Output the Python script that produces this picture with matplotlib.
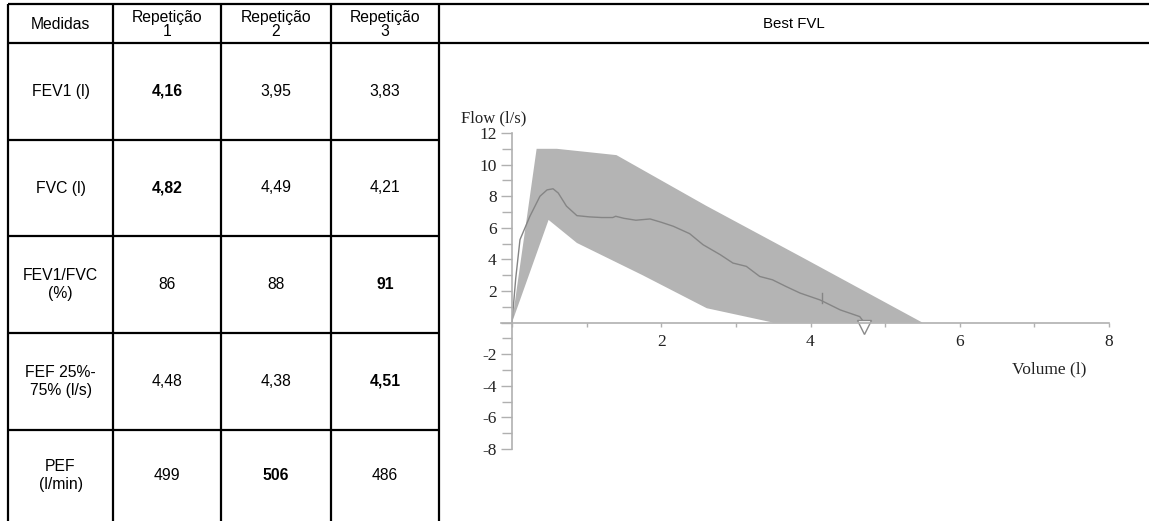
import matplotlib.pyplot as plt
from matplotlib.ticker import MultipleLocator

# table contents
medidas = ['FEV1 (l)', 'FVC (l)', 'FEV1/FVC\n(%)', 'FEF 25%-\n75% (l/s)', 'PEF\n(l/min)']
repeticoes = ['Repetição\n1', 'Repetição\n2', 'Repetição\n3']
valores = [['4,16', '3,95', '3,83'],
           ['4,82', '4,49', '4,21'],
           ['86', '88', '91'],
           ['4,48', '4,38', '4,51'],
           ['499', '506', '486']]
melhor = [0, 0, 2, 2, 1]   # which repetition is bold in each row

# predicted band (upper / lower edge)
sup_vol = [0, 0.33, 0.6, 1.4, 2.6, 3.9, 5.5]
sup_flow = [0, 11, 11, 10.6, 7.4, 4.1, 0]
inf_vol = [0, 0.49, 0.87, 1.75, 2.61, 3.5, 5.5]
inf_flow = [0, 6.5, 5.04, 3.0, 0.91, 0, 0]

# measured flow-volume curve
curve_vol = [0, 0.05, 0.107, 0.24, 0.375, 0.47, 0.55, 0.62, 0.73, 0.87, 1.04, 1.2,
             1.35, 1.39, 1.5, 1.66, 1.85, 2.0, 2.16, 2.38, 2.56, 2.79, 2.96, 3.14,
             3.32, 3.49, 3.67, 3.86, 4.13, 4.4, 4.66, 4.72]
curve_flow = [0, 2.8, 5.25, 6.73, 8.0, 8.4, 8.47, 8.2, 7.37, 6.77, 6.69, 6.65,
              6.65, 6.73, 6.6, 6.48, 6.56, 6.35, 6.1, 5.63, 4.93, 4.3, 3.77, 3.56,
              2.92, 2.71, 2.29, 1.87, 1.43, 0.8, 0.38, 0.0]
fev1_vol = 4.16
fev1_flow = [1.25, 1.9]
fvc_vol = 4.72

W, H = 1149, 521
fig = plt.figure(figsize=(W / 100, H / 100), dpi=100)

# ---- table drawn in pixel coordinates ----
tab = fig.add_axes([0, 0, 1, 1])
tab.set_xlim(0, W)
tab.set_ylim(H, 0)
tab.axis('off')

col_x = [8, 113, 221, 331, 439]
row_y = [4, 43, 140, 236, 333, 430, 521]
lw = 1.6
for y in row_y[:2]:
    tab.plot([col_x[0], W], [y, y], color='black', lw=lw, solid_capstyle='butt')
for y in row_y[2:-1]:
    tab.plot([col_x[0], col_x[-1]], [y, y], color='black', lw=lw, solid_capstyle='butt')
for x in col_x:
    tab.plot([x, x], [row_y[0], H], color='black', lw=lw, solid_capstyle='butt')

sans = ['Liberation Sans', 'DejaVu Sans']
fs = 11.3
hy = (row_y[0] + row_y[1]) / 2
tab.text((col_x[0] + col_x[1]) / 2, hy + 1, 'Medidas', ha='center', va='center',
         fontsize=fs, family=sans)
for j, r in enumerate(repeticoes):
    tab.text((col_x[j + 1] + col_x[j + 2]) / 2, hy + 1, r, ha='center', va='center',
             fontsize=fs, family=sans, linespacing=0.9)
tab.text((col_x[-1] + W) / 2, hy, 'Best FVL', ha='center', va='center',
         fontsize=fs - 0.5, family=['Liberation Sans Narrow', 'Liberation Sans'])

for i, m in enumerate(medidas):
    cy = (row_y[i + 1] + row_y[i + 2]) / 2
    tab.text((col_x[0] + col_x[1]) / 2, cy, m, ha='center', va='center',
             fontsize=fs, family=sans, linespacing=1.3)
    for j in range(3):
        tab.text((col_x[j + 1] + col_x[j + 2]) / 2, cy, valores[i][j], ha='center',
                 va='center', fontsize=fs, family=sans,
                 fontweight='bold' if melhor[i] == j else 'normal')

# ---- flow-volume chart ----
# x: 0 -> px 512, 8 -> px 1109 ; y: 12 -> px 133, -8 -> px 449
px_per_x = (1109 - 512) / 8
x0 = -0.15
left = 512 + x0 * px_per_x
ax = fig.add_axes([left / W, (H - 449) / H, (1109 - left) / W, (449 - 133) / H])
ax.set_facecolor('none')
ax.set_xlim(x0, 8)
ax.set_ylim(-8, 12)

ax.fill(sup_vol + inf_vol[::-1], sup_flow + inf_flow[::-1], color='#b4b4b4', lw=0)
ax.plot(curve_vol, curve_flow, color='#858585', lw=1.0)
ax.plot([fev1_vol, fev1_vol], fev1_flow, color='#858585', lw=1.0)
ax.plot([fvc_vol], [-0.3], marker='v', ms=10, mfc='white', mec='#8a8a8a', mew=1.0,
        ls='none', clip_on=False)

axis_col = '#b0b0b0'
for s in ['top', 'right']:
    ax.spines[s].set_visible(False)
ax.spines['left'].set_position(('data', 0))
ax.spines['bottom'].set_position(('data', 0))
for s in ['left', 'bottom']:
    ax.spines[s].set_color(axis_col)
    ax.spines[s].set_linewidth(1.2)
    ax.spines[s].set_zorder(3)

serif = ['Liberation Serif', 'DejaVu Serif']
ax.set_xticks([2, 4, 6, 8])
ax.xaxis.set_minor_locator(MultipleLocator(1))
ax.set_yticks(range(-8, 13, 2))
ax.set_yticklabels([str(v) if v != 0 else '' for v in range(-8, 13, 2)])
ax.yaxis.set_minor_locator(MultipleLocator(1))
ax.tick_params(axis='x', which='both', direction='out', length=3, width=1,
               color=axis_col, pad=5, labelsize=12.5, labelcolor='#222222')
ax.tick_params(axis='y', which='major', direction='out', length=8, width=1,
               color=axis_col, pad=3, labelsize=12.5, labelcolor='#222222')
ax.tick_params(axis='y', which='minor', direction='out', length=7, width=1,
               color=axis_col)
for lab in ax.get_xticklabels() + ax.get_yticklabels():
    lab.set_family(serif)

fig.text(461 / W, 1 - 118 / H, 'Flow (l/s)', ha='left', va='center', fontsize=12,
         family=serif, color='#222222')
fig.text(1049 / W, 1 - 369 / H, 'Volume (l)', ha='center', va='center', fontsize=12.5,
         family=serif, color='#222222')

fig.savefig('out.png', dpi=100)
